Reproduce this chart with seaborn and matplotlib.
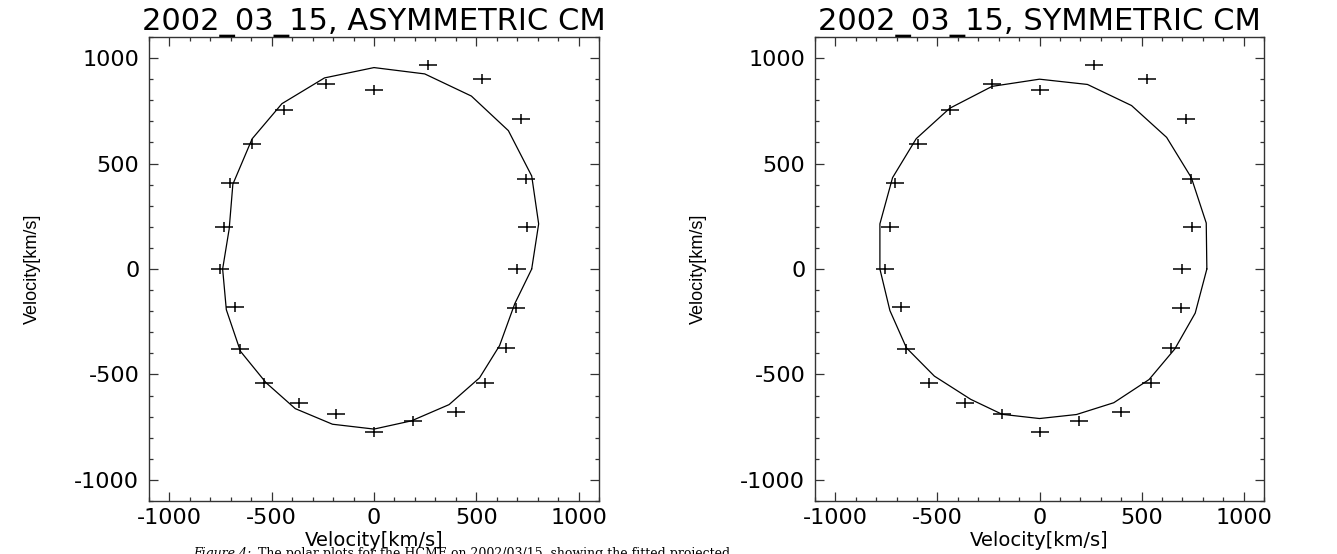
import matplotlib
matplotlib.use("Agg")
import pandas as pd
import matplotlib.pyplot as plt
import seaborn as sns
from matplotlib.path import Path
from matplotlib.ticker import MultipleLocator

# ---------------------------------------------------------------
# Polar plots of the 2002/03/15 HCME: measured points (+) and the
# fitted projected outlines for the asymmetric / symmetric cone model
# ---------------------------------------------------------------

# measured velocities, every 15 deg starting at 0 deg (km/s)
obs_x = [700, 747, 743, 719, 528, 265, 0, -234, -438, -596, -706, -734,
         -755, -680, -654, -539, -365, -185, 0, 192, 399, 544, 643, 695]
obs_y = [0, 199, 429, 712, 901, 969, 850, 876, 753, 592, 410, 199,
         0, -182, -379, -539, -634, -689, -772, -720, -678, -539, -374, -186]

# fitted outline, asymmetric cone model (closed)
asym_x = [771, 805, 771, 657, 476, 248, 0, -242, -450, -596, -690, -708,
          -740, -722, -653, -528, -385, -203, 0, 183, 367, 516, 614, 688, 771]
asym_y = [0, 214, 441, 656, 820, 925, 955, 906, 784, 617, 402, 190,
          0, -193, -390, -539, -662, -736, -759, -720, -643, -516, -363, -165, 0]

# fitted outline, symmetric cone model (closed)
sym_x = [820, 817, 744, 623, 451, 235, 0, -232, -440, -604, -720, -782,
         -782, -733, -652, -515, -337, -183, 0, 181, 364, 537, 663, 763, 820]
sym_y = [0, 218, 433, 624, 775, 875, 900, 866, 762, 618, 433, 214,
         0, -197, -374, -508, -618, -689, -709, -690, -634, -524, -379, -209, 0]

titles = ["2002_03_15, ASYMMETRIC CM", "2002_03_15, SYMMETRIC CM"]
axis_label = "Velocity[km/s]"
caption_head = "Figure 4:"
caption_body = "The polar plots for the HCME on 2002/03/15, showing the fitted projected"

# ------------------------- style -------------------------
sns.set_style("ticks")
plt.rcParams["font.family"] = ["DejaVu Sans"]
plt.rcParams["axes.unicode_minus"] = False
plt.rcParams["text.color"] = "black"
plt.rcParams["axes.labelcolor"] = "black"
plt.rcParams["xtick.labelcolor"] = "black"
plt.rcParams["ytick.labelcolor"] = "black"

obs = pd.DataFrame({"vx": obs_x, "vy": obs_y})
fits = [pd.DataFrame({"vx": asym_x, "vy": asym_y}),
        pd.DataFrame({"vx": sym_x, "vy": sym_y})]

# wide plus sign, like the IDL psym=1 on a stretched page
cross = Path([(-1, 0), (1, 0), (0, -0.55), (0, 0.55)],
             [Path.MOVETO, Path.LINETO, Path.MOVETO, Path.LINETO])

W, H = 1337, 554
fig = plt.figure(figsize=(W / 100, H / 100), dpi=100)
boxes = [(149, 37, 599, 501), (815, 37, 1264, 501)]

for (x0, y0, x1, y1), title, fit in zip(boxes, titles, fits):
    ax = fig.add_axes([x0 / W, 1 - y1 / H, (x1 - x0) / W, (y1 - y0) / H])

    sns.lineplot(data=fit, x="vx", y="vy", sort=False, estimator=None,
                 color="black", linewidth=0.9, ax=ax)
    sns.scatterplot(data=obs, x="vx", y="vy", marker=cross, s=150,
                    color="black", edgecolor="black", linewidth=1.1, ax=ax)

    ax.set_xlim(-1100, 1100)
    ax.set_ylim(-1100, 1100)
    ax.xaxis.set_major_locator(MultipleLocator(500))
    ax.yaxis.set_major_locator(MultipleLocator(500))
    ax.xaxis.set_minor_locator(MultipleLocator(100))
    ax.yaxis.set_minor_locator(MultipleLocator(100))
    ax.tick_params(which="both", direction="in", top=True, right=True,
                   color="#333333", width=0.9)
    ax.tick_params(which="major", length=6.5, labelsize=16)
    ax.tick_params(axis="y", which="major", pad=7)
    ax.tick_params(axis="x", which="major", pad=5)
    ax.tick_params(which="minor", length=3.2)
    for sp in ax.spines.values():
        sp.set_color("#333333")
        sp.set_linewidth(1.0)

    ax.set_title(title, fontsize=22, pad=5, color="black")
    ax.set_xlabel(axis_label, fontsize=14)
    ax.xaxis.set_label_coords(0.5, -0.064)
    ax.set_ylabel(axis_label, fontsize=13, family=["Liberation Sans"])
    ax.yaxis.set_label_coords(-0.24, 0.5)

# ------------------------- caption (cut by the page edge) -------------------------
t1 = fig.text(193 / W, -3 / H, caption_head, fontsize=9, style="italic",
              family=["DejaVu Serif"], va="baseline")
fig.canvas.draw()
bb = t1.get_window_extent()
fig.text((bb.x1 + 7) / W, -3 / H, caption_body, fontsize=9,
         family=["DejaVu Serif"], va="baseline")

fig.savefig("out.png", dpi=100)
plt.close(fig)
